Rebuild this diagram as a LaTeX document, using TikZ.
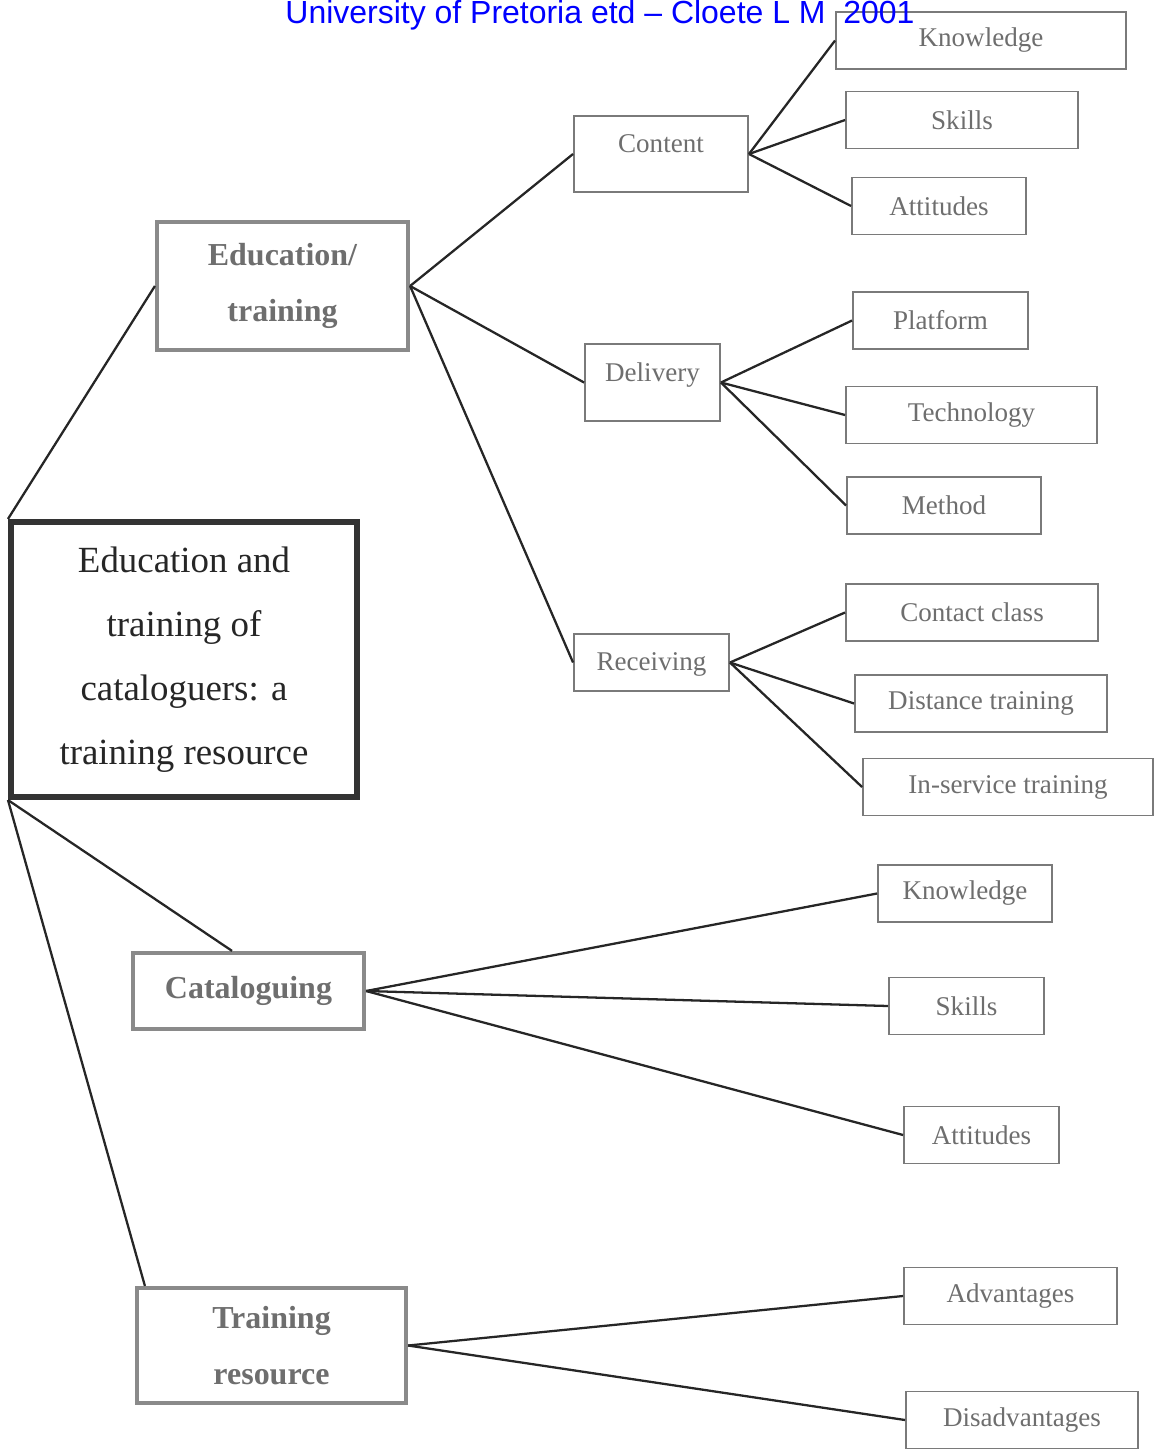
\documentclass[tikz,border=0pt]{standalone}
\usepackage{fontspec}
\setmainfont{Liberation Serif}
\newfontfamily\headfont{Liberation Sans}
\usepackage{xcolor}
\usepackage{tikz}
\usetikzlibrary{positioning, calc}
\definecolor{boxgray}{HTML}{8A8A8A}
\definecolor{leafgray}{HTML}{7A7A7A}
\definecolor{textgray}{HTML}{6E6E6E}
\definecolor{topicdark}{HTML}{333333}
\definecolor{etdblue}{HTML}{0000FF}
\tikzset{
    topic/.style={
        rectangle,
        draw=topicdark,
        line width=3.2pt,
        minimum width=6.93cm,
        minimum height=5.51cm,
        fill=white,
        align=center,
        text=black!85,
        font=\fontsize{21}{36.4}\selectfont
    },
    branch/.style={
        rectangle,
        draw=boxgray,
        line width=2.4pt,
        fill=white,
        align=center,
        text=textgray,
        font=\fontsize{18.2}{31.5}\selectfont\bfseries
    },
    subbranch/.style={
        rectangle,
        draw=leafgray,
        line width=1.1pt,
        fill=white
    },
    sublabel/.style={
        text=textgray,
        font=\fontsize{15.4}{18}\selectfont
    },
    leaf/.style={
        rectangle,
        draw=leafgray,
        line width=1.1pt,
        fill=white,
        minimum height=1.14cm,
        text=textgray,
        font=\fontsize{15.4}{18}\selectfont
    },
    link/.style={
        draw=black!85,
        line width=1.3pt
    }
}

\begin{document}
\begin{tikzpicture}[x=0.02cm, y=-0.02cm]

\useasboundingbox (0,0) rectangle (1159,1450);

% Main topic
\node[topic] (main) at (184,659.5) {Education and\\training of\\cataloguers: a\\training resource};

% Education/training branch
\node[branch, minimum width=5.02cm, minimum height=2.56cm] (edu_train) at (282.5,286) {Education/\\training};

\node[subbranch, minimum width=3.48cm, minimum height=1.52cm] (content) at (661,154) {};
\node[sublabel, below=0.27cm of content.north] {Content};
\node[subbranch, minimum width=2.7cm, minimum height=1.54cm] (delivery) at (652.5,382.5) {};
\node[sublabel, below=0.27cm of delivery.north] {Delivery};
\node[subbranch, minimum width=3.1cm, minimum height=1.14cm] (receiving) at (651.5,662.5) {};
\node[sublabel, below=0.27cm of receiving.north] {Receiving};

% Content leaves
\node[leaf, minimum width=5.8cm] (c_know) at (981,40.5) {Knowledge};
\node[leaf, minimum width=4.64cm] (c_skills) at (962,120) {Skills};
\node[leaf, minimum width=3.48cm] (c_att) at (939,206) {Attitudes};

% Delivery leaves
\node[leaf, minimum width=3.5cm] (d_platform) at (940.5,320.5) {Platform};
\node[leaf, minimum width=5.02cm] (d_tech) at (971.5,415) {Technology};
\node[leaf, minimum width=3.88cm] (d_method) at (944,505.5) {Method};

% Receiving leaves
\node[leaf, minimum width=5.04cm] (r_contact) at (972,612.5) {Contact class};
\node[leaf, minimum width=5.04cm] (r_distance) at (981,703.5) {Distance training};
\node[leaf, minimum width=5.8cm] (r_inservice) at (1008,787) {In-service training};

% Cataloguing branch
\node[branch, minimum width=4.62cm, minimum height=1.52cm] (cat) at (248.5,991) {Cataloguing};
\node[leaf, minimum width=3.48cm] (cat_know) at (965,893.5) {Knowledge};
\node[leaf, minimum width=3.1cm] (cat_skills) at (966.5,1006) {Skills};
\node[leaf, minimum width=3.1cm] (cat_att) at (981.5,1135) {Attitudes};

% Training resource branch
\node[branch, minimum width=5.38cm, minimum height=2.3cm] (tres) at (271.5,1345.5) {Training\\resource};
\node[leaf, minimum width=4.26cm] (adv) at (1010.5,1296) {Advantages};
\node[leaf, minimum width=4.64cm] (disadv) at (1022,1420) {Disadvantages};

% Links from main topic
\draw[link] (main.north west) -- (edu_train.west);
\draw[link] (main.south west) -- ($(cat.north west)!0.43!(cat.north east)$);
\draw[link] (main.south west) -- ([xshift=0.2cm]tres.north west);

\draw[link] (edu_train.east) -- (content.west);
\draw[link] (edu_train.east) -- (delivery.west);
\draw[link] (edu_train.east) -- (receiving.west);

\draw[link] (content.east) -- (c_know.west);
\draw[link] (content.east) -- (c_skills.west);
\draw[link] (content.east) -- (c_att.west);

\draw[link] (delivery.east) -- (d_platform.west);
\draw[link] (delivery.east) -- (d_tech.west);
\draw[link] (delivery.east) -- (d_method.west);

\draw[link] (receiving.east) -- (r_contact.west);
\draw[link] (receiving.east) -- (r_distance.west);
\draw[link] (receiving.east) -- (r_inservice.west);

\draw[link] (cat.east) -- (cat_know.west);
\draw[link] (cat.east) -- (cat_skills.west);
\draw[link] (cat.east) -- (cat_att.west);

\draw[link] (tres.east) -- (adv.west);
\draw[link] (tres.east) -- (disadv.west);

% Header
\node[font=\headfont\fontsize{18.2}{20}\selectfont, text=etdblue] (header) at (600,15) {University of Pretoria etd – Cloete L M\ \ 2001};

\end{tikzpicture}
\end{document}
